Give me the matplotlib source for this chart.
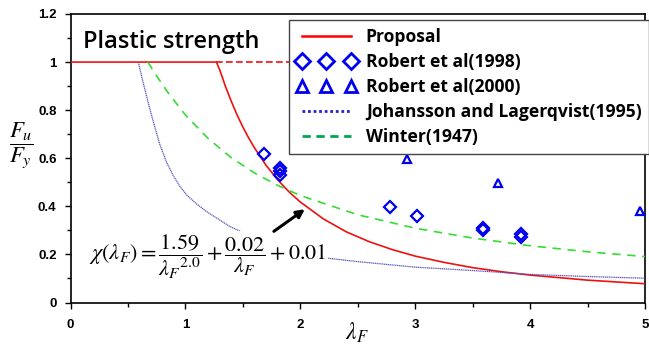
import matplotlib
matplotlib.use("Agg")
import matplotlib.pyplot as plt
from matplotlib.lines import Line2D
from matplotlib.ticker import MultipleLocator, FuncFormatter

# ---- data ----
prop_x = [0.0, 1.27, 1.30, 1.35, 1.40, 1.45, 1.50, 1.55, 1.60, 1.70, 1.80, 1.90, 2.00, 2.20, 2.40,
          2.60, 2.80, 3.00, 3.25, 3.50, 3.75, 4.00, 4.50, 5.00]
prop_y = [1.0, 1.0, 0.966, 0.897, 0.836, 0.780, 0.730, 0.685, 0.644, 0.572, 0.512, 0.461, 0.418,
          0.348, 0.294, 0.253, 0.220, 0.193, 0.167, 0.145, 0.128, 0.114, 0.093, 0.078]
prop_dash_x = [1.27, 5.0]
prop_dash_y = [1.0, 1.0]

winter_x = [0.673, 0.75, 0.85, 1.0, 1.2, 1.4, 1.6, 1.8, 2.0, 2.5, 3.0, 3.5, 4.0, 4.5, 5.0]
winter_y = [1.0, 0.942, 0.872, 0.78, 0.681, 0.602, 0.539, 0.488, 0.445, 0.365, 0.309, 0.268,
            0.236, 0.211, 0.191]

joh_x = [0.59, 0.633, 0.677, 0.72, 0.778, 0.836, 0.894, 0.952, 1.01, 1.097, 1.184, 1.286, 1.387,
         1.6, 1.9, 2.17, 2.5, 3.0, 3.5, 4.0, 4.5, 5.0]
joh_y = [1.0, 0.913, 0.830, 0.753, 0.656, 0.584, 0.528, 0.483, 0.448, 0.410, 0.378, 0.347, 0.316,
         0.27, 0.22, 0.188, 0.170, 0.147, 0.133, 0.117, 0.108, 0.101]

r98_x = [1.68, 1.82, 1.82, 1.82, 2.78, 3.02, 3.59, 3.59, 3.92, 3.92]
r98_y = [0.617, 0.56, 0.545, 0.53, 0.396, 0.361, 0.31, 0.302, 0.285, 0.272]

r00_x = [2.93, 3.72, 4.96]
r00_y = [0.596, 0.497, 0.380]

legend_labels = ["Proposal", "Robert et al(1998)", "Robert et al(2000)",
                 "Johansson and Lagerqvist(1995)", "Winter(1947)"]

plt.rcParams['mathtext.fontset'] = 'stix'

fig = plt.figure(figsize=(6.49, 3.46), dpi=100)
ax = fig.add_axes([70.5/649, 1-302.5/346, 574.5/649, 288.5/346])

red = '#ee1111'
blue = '#0000ee'
ax.plot(prop_x, prop_y, color=red, lw=1.2, zorder=3)
ax.plot(prop_dash_x, prop_dash_y, color=red, lw=1.2, ls=(0, (4, 2)), zorder=3)
ax.plot(winter_x, winter_y, color='#33dd33', lw=1.2, ls=(0, (5, 4)), zorder=3)
ax.plot(joh_x, joh_y, color='#5555bb', lw=0.9, ls=(0, (1, 0.5)), zorder=3)
ax.plot(r98_x, r98_y, ls='none', marker='D', ms=6.5, mfc='none', mec=blue, mew=1.6, zorder=4)
ax.plot(r00_x, r00_y, ls='none', marker='^', ms=6, mfc='none', mec=blue, mew=1.6, zorder=4)

ax.set_xlim(0, 5)
ax.set_ylim(0, 1.2)
ax.xaxis.set_major_locator(MultipleLocator(1))
ax.xaxis.set_minor_locator(MultipleLocator(0.5))
ax.yaxis.set_major_locator(MultipleLocator(0.2))
ax.yaxis.set_minor_locator(MultipleLocator(0.1))
fmt = FuncFormatter(lambda v, p: ('%g' % round(v, 2)))
ax.xaxis.set_major_formatter(fmt)
ax.yaxis.set_major_formatter(fmt)
ax.tick_params(which='both', direction='out', top=False, right=False, width=1)
ax.tick_params(which='major', length=4)
ax.tick_params(which='minor', length=3)
ax.tick_params(axis='x', which='major', pad=8)
ax.tick_params(axis='y', which='major', pad=6)
for lab in ax.get_xticklabels() + ax.get_yticklabels():
    lab.set_fontfamily('Liberation Sans')
    lab.set_fontweight('bold')
    lab.set_fontsize(9.5)
for s in ax.spines.values():
    s.set_linewidth(1.2)

# Title inside plot
ax.text(0.11, 1.085, "Plastic strength", fontsize=17, fontfamily='Open Sans',
        fontweight='semibold', ha='left', va='center', zorder=5)

# Equation with white background
ax.text(0.16, 0.19, r'$\chi(\lambda_F) = \dfrac{1.59}{{\lambda_F}^{2.0}} + \dfrac{0.02}{\lambda_F} + 0.01$',
        fontsize=16, ha='left', va='center', zorder=5,
        bbox=dict(facecolor='white', edgecolor='none', pad=1))

ax.annotate('', xy=(2.04, 0.388), xytext=(1.77, 0.296),
            arrowprops=dict(arrowstyle='-|>', color='black', lw=2.2, mutation_scale=12,
                            shrinkA=0, shrinkB=0), zorder=6)

# axis labels
fig.text(21/649, 1-145/346, r'$\dfrac{F_u}{F_y}$', fontsize=16.5, ha='center', va='center')
fig.text(357/649, 1-333/346, r'$\lambda_F$', fontsize=17, ha='center', va='center')

handles = [
    Line2D([], [], color='#ff0000', lw=1.8),
    Line2D([], [], ls='none', marker='D', ms=8, mfc='none', mec=blue, mew=2),
    Line2D([], [], ls='none', marker='^', ms=8.5, mfc='none', mec=blue, mew=2),
    Line2D([], [], color='#2222cc', lw=2, ls=(0, (1, 1))),
    Line2D([], [], color='#00a651', lw=2, ls=(0, (3, 2))),
]
leg = ax.legend(handles, legend_labels, loc='upper left', bbox_to_anchor=(0.38, 0.979),
                numpoints=3, handlelength=3.4, handletextpad=0.55, labelspacing=0.4,
                borderpad=0.45, borderaxespad=0, fancybox=False, framealpha=1,
                edgecolor='#444444', prop=dict(family='Open Sans', weight='bold', size=12.6))
leg.get_frame().set_linewidth(1.0)
leg.set_zorder(7)

fig.savefig('out.png', dpi=100)
